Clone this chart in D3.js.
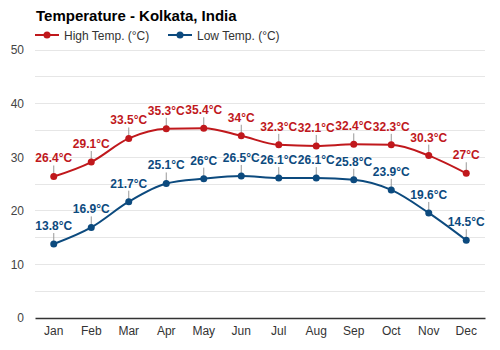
<!DOCTYPE html>
<html><head><meta charset="utf-8">
<script src="https://cdn.jsdelivr.net/npm/d3@7"></script>
<style>body{margin:0;background:#fff}text{font-family:"Liberation Sans",Arial,sans-serif}</style>
</head><body><svg id="c" width="500" height="350"></svg>
<script>
const months = ["Jan","Feb","Mar","Apr","May","Jun","Jul","Aug","Sep","Oct","Nov","Dec"];
const highTemp = [26.4,29.1,33.5,35.3,35.4,34,32.3,32.1,32.4,32.3,30.3,27];
const lowTemp = [13.8,16.9,21.7,25.1,26,26.5,26.1,26.1,25.8,23.9,19.6,14.5];
const yTicks = [0,10,20,30,40,50];
const gridTicks = [5,10,15,20,25,30,35,40,45,50];
const seriesNames = ["High Temp. (°C)","Low Temp. (°C)"];
const colors = ["#c0181c","#0c4a7e"];

const svg = d3.select("#c");
const L = 35, R = 485, T = 50, B = 318;
const x = d3.scaleBand().domain(months).range([L,R]);
const y = d3.scaleLinear().domain([0,50]).range([B,T]);

svg.append("rect").attr("width",500).attr("height",350).attr("fill","#fff");

svg.append("g").selectAll("line").data(gridTicks).join("line")
  .attr("x1",L).attr("x2",R).attr("y1",d=>y(d)).attr("y2",d=>y(d))
  .attr("stroke","#e6e6e6").attr("stroke-width",1).attr("shape-rendering","crispEdges");

const yAxis = svg.append("g").attr("transform",`translate(${L},0)`)
  .call(d3.axisLeft(y).tickValues(yTicks).tickSize(0).tickPadding(11));
yAxis.select(".domain").remove();
yAxis.selectAll("text").attr("font-size",12).attr("fill","#444").attr("font-family","Liberation Sans, Arial, sans-serif");

const xAxis = svg.append("g").attr("transform",`translate(0,${B})`)
  .call(d3.axisBottom(x).tickSize(0).tickPadding(8));
xAxis.select(".domain").attr("stroke","#333").attr("stroke-width",1.5);
xAxis.selectAll("text").attr("font-size",12).attr("fill","#333").attr("font-family","Liberation Sans, Arial, sans-serif");

svg.append("text").attr("x",36).attr("y",21).attr("font-size",15).attr("font-weight","bold")
  .attr("fill","#000").text("Temperature - Kolkata, India");

const cx = m => x(m) + x.bandwidth()/2;
const line = d3.line().x((d,i)=>cx(months[i])).y(d=>y(d)).curve(d3.curveMonotoneX);

[highTemp,lowTemp].forEach((vals,si)=>{
  const g = svg.append("g");
  g.selectAll("line.lead").data(vals).join("line").attr("class","lead")
    .attr("x1",(d,i)=>cx(months[i])).attr("x2",(d,i)=>cx(months[i]))
    .attr("y1",d=>y(d)).attr("y2",d=>y(d)-11)
    .attr("stroke","#999").attr("stroke-width",1);
  g.append("path").attr("d",line(vals)).attr("fill","none")
    .attr("stroke",colors[si]).attr("stroke-width",2);
  g.selectAll("circle").data(vals).join("circle")
    .attr("cx",(d,i)=>cx(months[i])).attr("cy",d=>y(d)).attr("r",3.5).attr("fill",colors[si]);
  g.selectAll("text").data(vals).join("text")
    .attr("x",(d,i)=>cx(months[i])).attr("y",d=>y(d)-14)
    .attr("text-anchor","middle").attr("font-size",12).attr("font-weight","bold")
    .attr("fill",colors[si]).text(d=>d+"°C");
});

const leg = [{x:35,tx:64},{x:168,tx:197}];
seriesNames.forEach((n,i)=>{
  const g = svg.append("g");
  g.append("line").attr("x1",leg[i].x).attr("x2",leg[i].x+24).attr("y1",35).attr("y2",35)
    .attr("stroke",colors[i]).attr("stroke-width",2);
  g.append("circle").attr("cx",leg[i].x+12).attr("cy",35).attr("r",3.5).attr("fill",colors[i]);
  g.append("text").attr("x",leg[i].tx).attr("y",39.5).attr("font-size",12).attr("fill","#333").text(n);
});
</script></body></html>
